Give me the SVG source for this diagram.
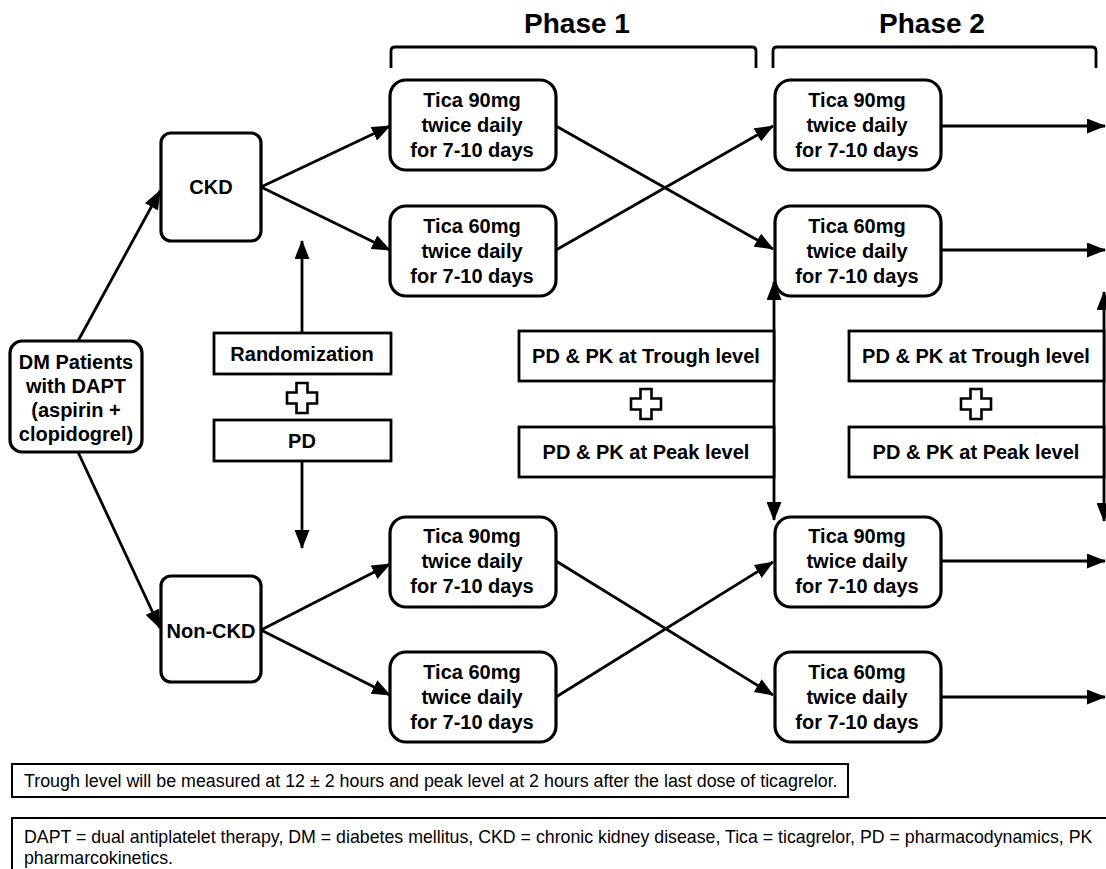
<svg xmlns="http://www.w3.org/2000/svg" width="1106" height="869" viewBox="0 0 1106 869">
<defs>
<marker id="ah" markerUnits="userSpaceOnUse" markerWidth="19" markerHeight="15" refX="18" refY="7.5" orient="auto-start-reverse" viewBox="0 0 19 15"><path d="M0,0 L19,7.5 L0,15 z" fill="#000"/></marker>
<path id="plus" d="M-5.5,-15 h11 v9.5 h9.5 v11 h-9.5 v9.5 h-11 v-9.5 h-9.5 v-11 h9.5 z"/>
</defs>
<style>
.rb{fill:#fff;stroke:#000;stroke-width:3.2}
.sq{fill:#fff;stroke:#000;stroke-width:2.8}
.t{font-family:"Liberation Sans",Arial,sans-serif;font-weight:bold;font-size:20px;text-anchor:middle;fill:#000}
.ph{font-size:28px}
.fn{font-family:"Liberation Sans",Arial,sans-serif;fill:#000}
.f1{font-size:17.85px}
.f2{font-size:17.75px}
.c line,.c path{stroke:#000;stroke-width:2.8;fill:none}
.ar{marker-end:url(#ah)}
.da{marker-start:url(#ah);marker-end:url(#ah)}
.pl{fill:#fff;stroke:#000;stroke-width:2.6}
.br{stroke:#000;stroke-width:2.8;fill:none}
.fb{fill:#fff;stroke:#000;stroke-width:2}
</style>
<rect width="1106" height="869" fill="#fff"/>

<g id="headers">
<text class="t ph" x="577" y="33">Phase 1</text>
<text class="t ph" x="932" y="33">Phase 2</text>
<path class="br" d="M391,68 V51 Q391,47 395,47 H752 Q756,47 756,51 V68"/>
<path class="br" d="M773,68 V51 Q773,47 777,47 H1092 Q1096,47 1096,51 V68"/>
</g>

<g id="connectors" class="c">
<line class="ar" x1="78" y1="341" x2="160" y2="191"/>
<line class="ar" x1="78" y1="452" x2="160" y2="628"/>
<line class="ar" x1="261" y1="187" x2="390" y2="126"/>
<line class="ar" x1="261" y1="187" x2="390" y2="250"/>
<line class="ar" x1="261" y1="630" x2="390" y2="564"/>
<line class="ar" x1="261" y1="630" x2="390" y2="695"/>
<line class="ar" x1="556" y1="126" x2="773" y2="249"/>
<line class="ar" x1="556" y1="250" x2="773" y2="126"/>
<line class="ar" x1="556" y1="561" x2="773" y2="695"/>
<line class="ar" x1="556" y1="697" x2="773" y2="562"/>
<line class="ar" x1="941" y1="126" x2="1105" y2="126"/>
<line class="ar" x1="941" y1="250" x2="1105" y2="250"/>
<line class="ar" x1="941" y1="561" x2="1105" y2="561"/>
<line class="ar" x1="941" y1="697" x2="1105" y2="697"/>
<line class="ar" x1="302" y1="333" x2="302" y2="241"/>
<line class="ar" x1="302" y1="461" x2="302" y2="548"/>
<line class="da" x1="774" y1="282" x2="774" y2="520"/>
<line class="da" x1="1104" y1="292" x2="1104" y2="521"/>
</g>

<g id="dm">
<rect class="rb" x="10" y="341" width="132" height="111" rx="12"/>
<text class="t" x="76" y="369">DM Patients<tspan x="76" dy="24">with DAPT</tspan><tspan x="76" dy="24">(aspirin +</tspan><tspan x="76" dy="24">clopidogrel)</tspan></text>
</g>

<g id="ckd">
<rect class="rb" x="161" y="133" width="100" height="108" rx="10"/>
<text class="t" x="211" y="194">CKD</text>
</g>

<g id="nonckd">
<rect class="rb" x="161" y="576" width="100" height="106" rx="10"/>
<text class="t" x="211" y="638">Non-CKD</text>
</g>

<g id="randomization">
<rect class="sq" x="214" y="333" width="177" height="41"/>
<text class="t" x="302" y="361">Randomization</text>
<use href="#plus" class="pl" x="302" y="398"/>
<rect class="sq" x="214" y="420" width="177" height="41"/>
<text class="t" x="302" y="448">PD</text>
</g>

<g id="p1-ckd-90">
<rect class="rb" x="390" y="80" width="166" height="90" rx="16"/>
<text class="t" x="472" y="107">Tica 90mg<tspan x="472" dy="25">twice daily</tspan><tspan x="472" dy="25">for 7-10 days</tspan></text>
</g>
<g id="p1-ckd-60">
<rect class="rb" x="390" y="206" width="166" height="90" rx="16"/>
<text class="t" x="472" y="233">Tica 60mg<tspan x="472" dy="25">twice daily</tspan><tspan x="472" dy="25">for 7-10 days</tspan></text>
</g>
<g id="p1-non-90">
<rect class="rb" x="390" y="517" width="166" height="90" rx="16"/>
<text class="t" x="472" y="543">Tica 90mg<tspan x="472" dy="25">twice daily</tspan><tspan x="472" dy="25">for 7-10 days</tspan></text>
</g>
<g id="p1-non-60">
<rect class="rb" x="390" y="652" width="166" height="90" rx="16"/>
<text class="t" x="472" y="679">Tica 60mg<tspan x="472" dy="25">twice daily</tspan><tspan x="472" dy="25">for 7-10 days</tspan></text>
</g>

<g id="p2-ckd-90">
<rect class="rb" x="775" y="80" width="166" height="90" rx="16"/>
<text class="t" x="857" y="107">Tica 90mg<tspan x="857" dy="25">twice daily</tspan><tspan x="857" dy="25">for 7-10 days</tspan></text>
</g>
<g id="p2-ckd-60">
<rect class="rb" x="775" y="206" width="166" height="90" rx="16"/>
<text class="t" x="857" y="233">Tica 60mg<tspan x="857" dy="25">twice daily</tspan><tspan x="857" dy="25">for 7-10 days</tspan></text>
</g>
<g id="p2-non-90">
<rect class="rb" x="775" y="517" width="166" height="90" rx="16"/>
<text class="t" x="857" y="543">Tica 90mg<tspan x="857" dy="25">twice daily</tspan><tspan x="857" dy="25">for 7-10 days</tspan></text>
</g>
<g id="p2-non-60">
<rect class="rb" x="775" y="652" width="166" height="90" rx="16"/>
<text class="t" x="857" y="679">Tica 60mg<tspan x="857" dy="25">twice daily</tspan><tspan x="857" dy="25">for 7-10 days</tspan></text>
</g>

<g id="p1-pdpk">
<rect class="sq" x="519" y="331" width="255" height="50"/>
<text class="t" x="646" y="363">PD &amp; PK at Trough level</text>
<use href="#plus" class="pl" x="646" y="404"/>
<rect class="sq" x="519" y="427" width="255" height="50"/>
<text class="t" x="646" y="459">PD &amp; PK at Peak level</text>
</g>

<g id="p2-pdpk">
<rect class="sq" x="849" y="331" width="255" height="50"/>
<text class="t" x="976" y="363">PD &amp; PK at Trough level</text>
<use href="#plus" class="pl" x="976" y="404"/>
<rect class="sq" x="849" y="427" width="255" height="50"/>
<text class="t" x="976" y="459">PD &amp; PK at Peak level</text>
</g>

<g id="footnote1">
<rect class="fb" x="12" y="764" width="836" height="33"/>
<text class="fn f1" x="24" y="787">Trough level will be measured at 12 ± 2 hours and peak level at 2 hours after the last dose of ticagrelor.</text>
</g>
<g id="footnote2">
<rect class="fb" x="12" y="818" width="1110" height="70"/>
<text class="fn f2" x="24" y="843">DAPT = dual antiplatelet therapy, DM = diabetes mellitus, CKD = chronic kidney disease, Tica = ticagrelor, PD = pharmacodynamics, PK</text>
<text class="fn f2" x="24" y="864">pharmarcokinetics.</text>
</g>
</svg>
